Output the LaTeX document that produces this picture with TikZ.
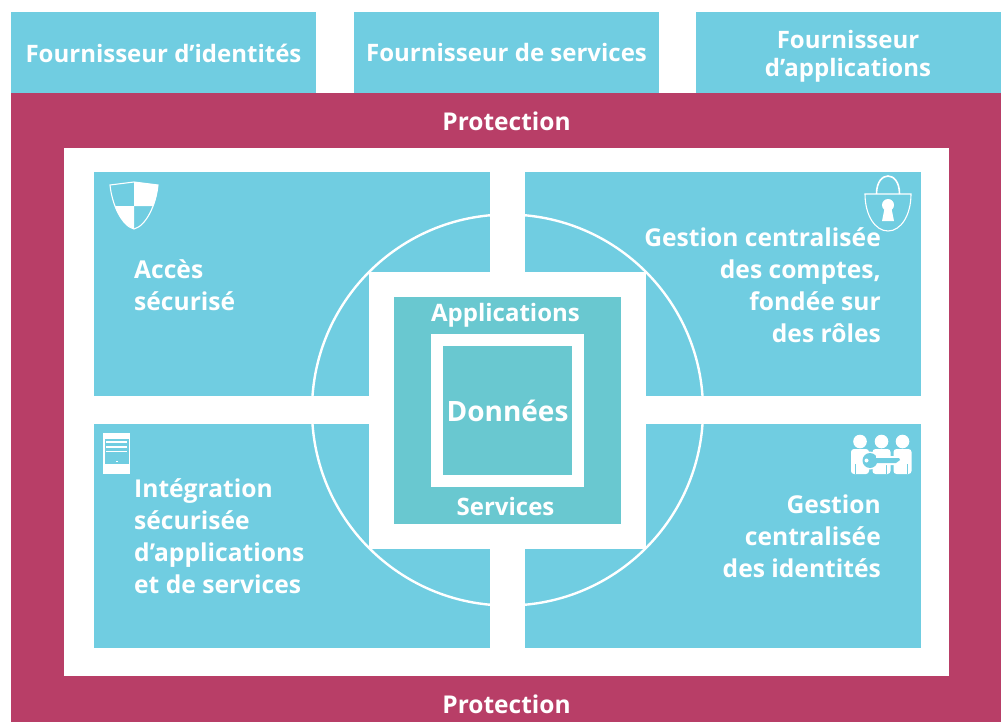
\documentclass[tikz,border=0pt]{standalone}
\usepackage{fontspec}
\setmainfont{Open Sans}[BoldFont={Open Sans Bold}]
\definecolor{cy}{HTML}{70CDE1}
\definecolor{tl}{HTML}{69C8D0}
\definecolor{rd}{HTML}{B83E67}
\tikzset{
 lab/.style={text=white,font=\bfseries\fontsize{24.6}{32}\selectfont,inner sep=0pt},
 labt/.style={lab,font=\bfseries\fontsize{24}{28}\selectfont},
 blk/.style={fill=#1,draw=none},
 wl/.style={draw=white,line width=1.1pt,fill=none}
}
\begin{document}
\begin{tikzpicture}[x=1pt,y=-1pt]
\useasboundingbox (0,0) rectangle (1003,722);
\fill[white] (0,0) rectangle (1003,722);
\fill[blk=cy] (11,12) rectangle (316,93);
\fill[blk=cy] (354,12) rectangle (659,93);
\fill[blk=cy] (696,12) rectangle (1001,93);
\fill[blk=rd] (11,93) rectangle (1001,722);
\fill[white] (64,148) rectangle (949,676);
\fill[blk=cy] (94,172) rectangle (490,396);
\fill[blk=cy] (525,172) rectangle (921,396);
\fill[blk=cy] (94,424) rectangle (490,648);
\fill[blk=cy] (525,424) rectangle (921,648);
\draw[white,line width=2.4pt] (507.5,410) circle (195.5);
\fill[white] (369,272) rectangle (646,549);
\fill[blk=tl] (394,297) rectangle (621,524);
\fill[white] (431,334) rectangle (584,487);
\fill[blk=tl] (443,346) rectangle (572,475);
% text
\node[labt] (t1) at (163.5,53) {Fournisseur d’identités};
\node[labt] (t2) at (506.5,53) {Fournisseur de services};
\node[labt,align=center] (t3) at (848,56) {Fournisseur\\d’applications};
\node[labt,font=\bfseries\fontsize{24.5}{28}\selectfont] (p1) at (506.5,121) {Protection};
\node[labt,font=\bfseries\fontsize{24.5}{28}\selectfont] (p2) at (506.5,704) {Protection};
\node[lab,align=left,anchor=west] (a) at (134,285.5) {Accès\\sécurisé};
\node[lab,align=right,anchor=east] (g) at (881,285.5) {Gestion centralisée\\des comptes,\\fondée sur\\des rôles};
\node[lab,align=left,anchor=west] (i) at (134,536.5) {Intégration\\sécurisée\\d’applications\\et de services};
\node[lab,align=right,anchor=east] (c) at (881,536.5) {Gestion\\centralisée\\des identités};
\node[labt] (ap) at (505.5,315) {Applications};
\node[labt] (se) at (505.5,506.5) {Services};
\node[labt,font=\bfseries\fontsize{28}{32}\selectfont] (do) at (507.5,411) {Données};
% shield
\fill[white] (134,182) -- (158,185) .. controls (157.5,192) and (156,199) .. (153.5,206) -- (134,206) -- cycle;
\fill[white] (134,206) -- (134,229) .. controls (126,226) and (118,216) .. (115,206) -- cycle;
\draw[wl] (134,182) -- (110,185) .. controls (112,205) and (122,226) .. (134,229) .. controls (146,226) and (156,205) .. (158,185) -- cycle;
% lock
\draw[wl] (865,194) -- (911,194) .. controls (911,215) and (901,231) .. (888,231) .. controls (875,231) and (865,215) .. (865,194) -- cycle;
\draw[wl,line width=1.6pt] (876.5,194) .. controls (876.5,170) and (899.5,170) .. (899.5,194);
\fill[white] (888,205) circle (6);
\fill[white] (885,206) -- (891,206) -- (894,221) -- (882,221) -- cycle;
% tablet
\fill[white] (103,433) rectangle (130,474);
\fill[cy] (105,439) rectangle (129,464);
\foreach \yy in {442,447,451.5} \fill[white] (106,\yy-.6) rectangle (127,\yy+.6);
\fill[white] (116,460.5) rectangle (118,462);
% people
\foreach \xx in {860,881.5,902.5}{
 \fill[white] (\xx,441.5) circle (6.8);
 \fill[white,rounded corners=3pt] (\xx-9,449) rectangle (\xx+9,474);
}
\foreach \xx in {855,886,907}
 \fill[cy] (\xx,464) rectangle (\xx+.8,474);
\fill[white] (870,460.5) circle (9);
\fill[cy] (870,460.5) circle (7.5);
\fill[white] (866.5,460.5) circle (2);
\fill[white] (876,456) -- (900,456) -- (902,460) -- (897,465) -- (877,465) -- cycle;
\fill[cy] (876,458) -- (899,458) -- (900,460) -- (896,463) -- (876,463) -- cycle;
\end{tikzpicture}
\end{document}
